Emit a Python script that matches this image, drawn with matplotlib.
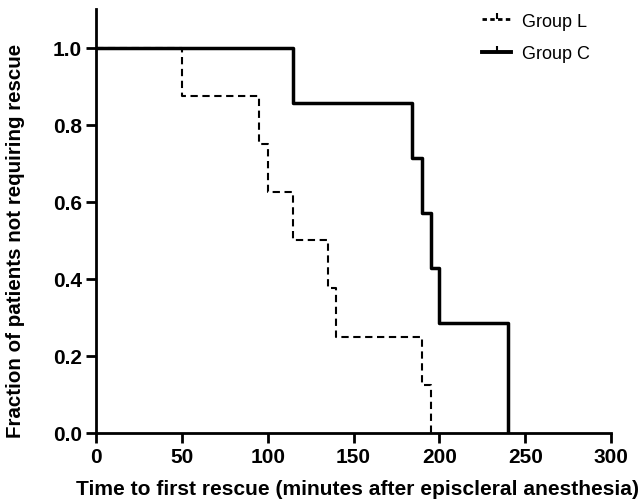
import matplotlib
matplotlib.use('Agg')
import matplotlib.pyplot as plt
from matplotlib.lines import Line2D
import numpy as np

plt.rcParams['font.family'] = ['Liberation Sans', 'DejaVu Sans']

# event times (minutes) for each group
group_l_times = [50, 95, 100, 115, 135, 140, 190, 195]
group_c_times = [115, 184, 190, 195, 200, 240, 240]


def km_curve(times):
    times = sorted(times)
    n = len(times)
    xs = [0]
    ys = [1.0]
    alive = n
    for t in sorted(set(times)):
        d = times.count(t)
        alive -= d
        xs.append(t)
        ys.append(alive / n)
    return xs, ys


fig = plt.figure(figsize=(6.44, 5.02), dpi=100, facecolor='white')
ax = fig.add_axes([0.149, 0.1355, 0.8, 0.8445])

xl, yl = km_curve(group_l_times)
xc, yc = km_curve(group_c_times)
ax.step(xl, yl, where='post', color='black', lw=1.5, ls=(0, (3.5, 2.2)))
ax.step(xc, yc, where='post', color='black', lw=2.5)

ax.set_xlim(0, 300)
ax.set_ylim(0, 1.1)
ax.set_xticks([0, 50, 100, 150, 200, 250, 300])
ax.set_yticks([0.0, 0.2, 0.4, 0.6, 0.8, 1.0])
ax.set_yticklabels(['0.0', '0.2', '0.4', '0.6', '0.8', '1.0'])
for s in ['top', 'right']:
    ax.spines[s].set_visible(False)
for s in ['left', 'bottom']:
    ax.spines[s].set_linewidth(2)
ax.spines['bottom'].set_bounds(0, 300)
ax.tick_params(direction='out', width=2, length=7, labelsize=15, pad=3)
for lab in ax.get_xticklabels() + ax.get_yticklabels():
    lab.set_fontweight('bold')

ax.set_xlabel('Time to first rescue (minutes after episcleral anesthesia)',
              fontsize=15.1, fontweight='bold')
ax.set_ylabel('Fraction of patients not requiring rescue',
              fontsize=14.8, fontweight='bold')
ax.xaxis.set_label_coords(0.508, -0.108)
ax.yaxis.set_label_coords(-0.138, 0.5 / 1.1)

handles = [
    Line2D([], [], color='black', lw=2, ls=(0, (1.6, 1.2)), marker=2, markersize=4, markeredgewidth=1.5),
    Line2D([], [], color='black', lw=2.8, marker=2, markersize=4, markeredgewidth=1.5),
]
ax.legend(handles, ['Group L', 'Group C'], loc='upper right', frameon=False,
          fontsize=13, handlelength=1.6, handletextpad=0.6,
          bbox_to_anchor=(0.99, 1.03), labelspacing=0.85)

fig.savefig('out.png', dpi=100, facecolor='white')
